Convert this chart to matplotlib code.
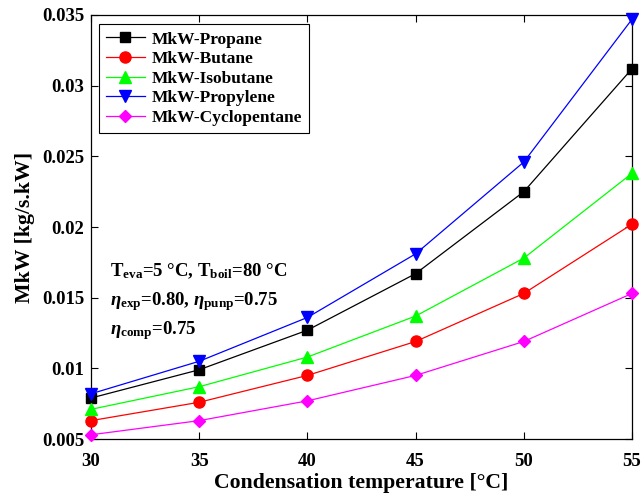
import matplotlib
matplotlib.use("Agg")
import matplotlib.pyplot as plt
from matplotlib.ticker import FuncFormatter

plt.rcParams['font.family'] = ['Liberation Serif', 'DejaVu Serif']
plt.rcParams['font.weight'] = 'bold'
plt.rcParams['mathtext.fontset'] = 'custom'
plt.rcParams['mathtext.rm'] = 'Liberation Serif:bold'
plt.rcParams['mathtext.bf'] = 'Liberation Serif:bold'
plt.rcParams['mathtext.it'] = 'Liberation Serif:italic:bold'

temps = [30, 35, 40, 45, 50, 55]
propane = [0.0079, 0.0099, 0.0127, 0.0167, 0.0225, 0.0312]
butane = [0.0063, 0.0076, 0.0095, 0.0119, 0.0153, 0.0202]
isobutane = [0.0071, 0.0087, 0.0108, 0.0137, 0.0178, 0.0238]
propylene = [0.0082, 0.0105, 0.0136, 0.0181, 0.0246, 0.0347]
cyclopentane = [0.0053, 0.0063, 0.0077, 0.0095, 0.0119, 0.0153]

series = [
    ("MkW-Propane", propane, "black", "s", 6.5),
    ("MkW-Butane", butane, "#ff0000", "o", 8),
    ("MkW-Isobutane", isobutane, "#00ff00", "^", 8),
    ("MkW-Propylene", propylene, "#0000ff", "v", 8),
    ("MkW-Cyclopentane", cyclopentane, "#ff00ff", "D", 6.5),
]

fig = plt.figure(figsize=(6.44, 4.95), dpi=100)
ax = fig.add_axes([0.1413, 0.1131, 0.8401, 0.8566])

for name, vals, col, mk, ms in series:
    ax.plot(temps, vals, color=col, marker=mk, markersize=ms, lw=0.9,
            label=name, clip_on=False, zorder=3)

ax.set_xlim(30, 55)
ax.set_ylim(0.005, 0.035)
ax.set_xticks([30, 35, 40, 45, 50, 55])
ax.set_yticks([0.005, 0.01, 0.015, 0.02, 0.025, 0.03, 0.035])
ax.yaxis.set_major_formatter(FuncFormatter(lambda v, p: ('%g' % round(v, 4))))
ax.tick_params(direction='in', top=True, right=True, labelsize=13.5, length=5, width=0.8)
ax.tick_params(axis='x', pad=10)
ax.tick_params(axis='y', pad=5)
for lab in ax.get_xticklabels() + ax.get_yticklabels():
    lab.set_fontweight('bold')
for s in ax.spines.values():
    s.set_linewidth(0.9)

ax.set_xlabel("Condensation temperature [°C]", fontsize=15.7, fontweight='bold', labelpad=2)
ax.set_ylabel("MkW [kg/s.kW]", fontsize=15.7, fontweight='bold', labelpad=5)

leg = ax.legend(loc='upper left', bbox_to_anchor=(0.006, 0.99), fontsize=12.5,
                fancybox=False, edgecolor='black', framealpha=1, handlelength=2.2,
                borderaxespad=0.3, labelspacing=0.2, handletextpad=0.4)
leg.get_frame().set_linewidth(0.8)
for t in leg.get_texts():
    t.set_fontweight('bold')

ax.text(0.035, 0.385, r'$\mathrm{T}_{\mathrm{eva}}$=5 °C, $\mathrm{T}_{\mathrm{boil}}$=80 °C',
        transform=ax.transAxes, fontsize=13.5, fontweight='bold')
ax.text(0.035, 0.315, r'$\eta_{\mathrm{exp}}$=0.80, $\eta_{\mathrm{punp}}$=0.75',
        transform=ax.transAxes, fontsize=13.5, fontweight='bold')
ax.text(0.035, 0.248, r'$\eta_{\mathrm{comp}}$=0.75',
        transform=ax.transAxes, fontsize=13.5, fontweight='bold')

fig.savefig("out.png", dpi=100)
